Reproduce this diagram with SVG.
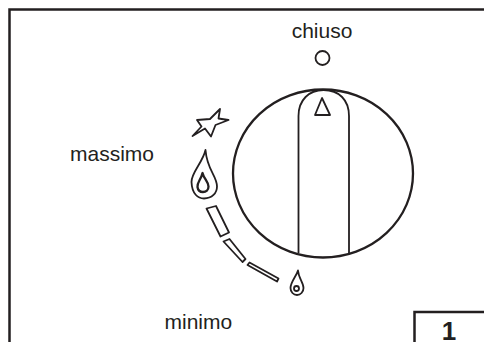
<svg xmlns="http://www.w3.org/2000/svg" width="484" height="342" viewBox="0 0 484 342">
<style>
.l{fill:none;stroke:#231f20;stroke-width:1.800;stroke-linejoin:round}
.d{stroke-width:2.300}
.t{font-family:"Liberation Sans",Arial,sans-serif;font-size:21px;fill:#231f20}
</style>
<rect width="484" height="342" fill="#fff"/>
<path d="M9.500 342V9.500H484" fill="none" stroke="#231f20" stroke-width="2.500"/>
<g id="dial">
<ellipse class="l d" cx="323" cy="173.500" rx="90" ry="84"/>
<path class="l" d="M298.500 253V116C298.500 100 309 90 323.500 90C339 90 349 100 349 116V253"/>
<path class="l" d="M322 98L315 115H330Z"/>
</g>
<g id="closed"><circle class="l" cx="322.500" cy="58" r="7"/><text class="t" x="322" y="38" text-anchor="middle">chiuso</text></g>
<g id="max">
<path class="l" d="M220 109L218.500 118.500L228.500 120L215.500 125L211 136.500L205 128.500L192.500 136L201.500 126.500L197 120L210 119Z"/>
<path class="l" d="M205.500 150C203 162 191 173 191.500 182C192 194 198 198.500 204 198.500C212 198.500 217 193 217 186.500C217 176 207 170 205.500 150Z"/>
<path class="l d" d="M202.500 173C201 180 197 182 197.500 187C198 191 200 192 203 192C206 192 208.500 190 208.500 186.500C208.500 182 204 179 202.500 173Z"/>
<text class="t" x="70" y="161">massimo</text>
</g>
<g id="scale">
<path class="l" d="M206.500 208.500L216 206L229 232.500L220.500 236.500Z"/>
<path class="l" d="M223.500 241.500L229.500 239L245.500 259L242.500 262Z"/>
<path class="l" d="M247.500 265L249.500 262.500L278.500 278.500L277 281.500Z"/>
</g>
<g id="min">
<path class="l" d="M298 270.500C296.500 276 290.500 282 290.500 288C290.500 292 293.500 295 297 295C300.500 295 303.500 292 303.500 288C303.500 283 298.500 278 298 270.500Z"/>
<circle class="l" cx="296.500" cy="288.500" r="2.500"/>
<text class="t" x="164.500" y="329">minimo</text>
</g>
<g id="box"><path d="M414.500 342V312H484" fill="none" stroke="#231f20" stroke-width="2.500"/>
<text x="449" y="339.500" text-anchor="middle" font-family="Liberation Sans, Arial, sans-serif" font-weight="bold" font-size="26" fill="#231f20">1</text></g>
</svg>
